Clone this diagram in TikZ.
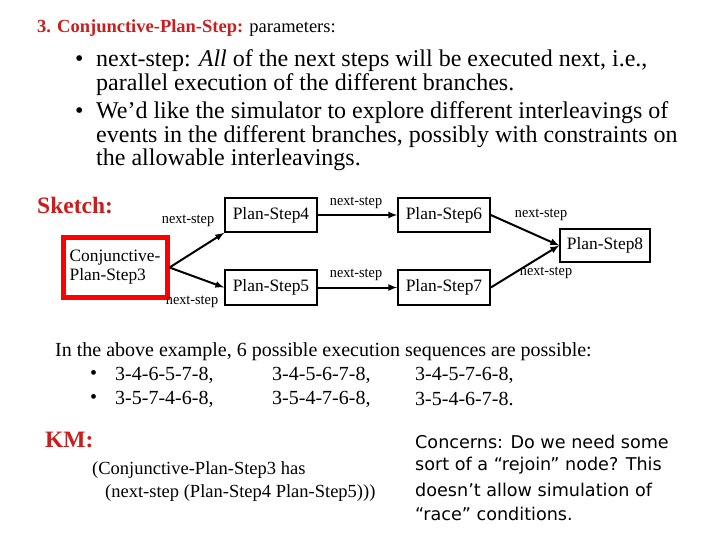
\documentclass[tikz,border=0pt]{standalone}
\usepackage{fontspec}
\setmainfont{Liberation Serif}
\newfontfamily\cfont{DejaVu Sans}
\definecolor{dred}{RGB}{200,30,30}
\begin{document}
\begin{tikzpicture}[x=1pt,y=-1pt,
  box/.style={draw,line width=1.6pt,inner sep=0pt,font=\fontsize{17.4}{19}\selectfont},
  lbl/.style={font=\fontsize{15}{16}\selectfont,inner sep=1pt,xscale=0.95},
  txt/.style={anchor=west,inner sep=0pt,font=\fontsize{24}{26}\selectfont},
  ltxt/.style={anchor=west,inner sep=0pt,font=\fontsize{20}{22}\selectfont},
  arr/.style={-latex,line width=2pt}]
\useasboundingbox (0,0) rectangle (720,540);
\node[txt,font=\fontsize{18.5}{20}\selectfont] (t0) at (37,28) {\textcolor{dred}{\textbf{3. Conjunctive-Plan-Step:}} parameters:};
\node[txt] (b1) at (75,61) {•};
\node[txt] (l1) at (96,61) {next-step: \textit{All} of the next steps will be executed next, i.e.,};
\node[txt] (l2) at (96,85) {parallel execution of the different branches.};
\node[txt] (b2) at (75,113) {•};
\node[txt] (l3) at (96,113) {We’d like the simulator to explore different interleavings of};
\node[txt] (l4) at (96,137) {events in the different branches, possibly with constraints on};
\node[txt] (l5) at (96,160) {the allowable interleavings.};
\node[txt,text=dred,font=\bfseries\fontsize{23.5}{25}\selectfont] (sk) at (37,206) {Sketch:};

\node[box,draw=red,line width=5pt,minimum width=104pt,minimum height=60pt,align=left] (c3) at (115,267.5) {Conjunctive-\\Plan-Step3};
\node[box,minimum width=92pt,minimum height=34pt] (p4) at (271,215) {Plan-Step4};
\node[box,minimum width=92pt,minimum height=34pt] (p6) at (444,215) {Plan-Step6};
\node[box,minimum width=90pt,minimum height=33pt] (p8) at (605,245.5) {Plan-Step8};
\node[box,minimum width=92pt,minimum height=35pt] (p5) at (271,287.5) {Plan-Step5};
\node[box,minimum width=92pt,minimum height=35pt] (p7) at (444,287.5) {Plan-Step7};
\draw[arr] (c3.east) -- (p4.south west);
\draw[arr] (c3.east) -- (p5.west);
\draw[arr] (p4) -- (p6);
\draw[arr] (p5) -- (p7);
\draw[arr] (p6.east) -- (p8.west);
\draw[arr] (p7.east) -- (p8.west);
\node[lbl] (n1) at (188,221) {next-step};
\node[lbl] (n2) at (192,302) {next-step};
\node[lbl] (n3) at (356,203) {next-step};
\node[lbl] (n4) at (356,275) {next-step};
\node[lbl] (n5) at (541,215) {next-step};
\node[lbl] (n6) at (546,273) {next-step};

\node[ltxt] (e0) at (55,352) {In the above example, 6 possible execution sequences are possible:};
\node[ltxt] (e1) at (90,375) {•};
\node[ltxt] (e2) at (115,375) {3-4-6-5-7-8,};
\node[ltxt] (e3) at (272,375) {3-4-5-6-7-8,};
\node[ltxt] (e4) at (415,375) {3-4-5-7-6-8,};
\node[ltxt] (e5) at (90,399) {•};
\node[ltxt] (e6) at (115,399) {3-5-7-4-6-8,};
\node[ltxt] (e7) at (272,399) {3-5-4-7-6-8,};
\node[ltxt] (e8) at (415,399) {3-5-4-6-7-8.};
\node[txt,text=dred,font=\bfseries\fontsize{23.5}{25}\selectfont] (km) at (45,440) {KM:};
\node[txt,font=\fontsize{18.5}{21}\selectfont] (k1) at (92,470) {(Conjunctive-Plan-Step3 has};
\node[txt,font=\fontsize{18.5}{21}\selectfont] (k2) at (105,493) {(next-step (Plan-Step4 Plan-Step5)))};
\node[txt,font=\cfont\fontsize{17.6}{19}\selectfont] (c1) at (415,442) {Concerns: Do we need some};
\node[txt,font=\cfont\fontsize{17.6}{19}\selectfont] (c2) at (415,466) {sort of a “rejoin” node? This};
\node[txt,font=\cfont\fontsize{17.6}{19}\selectfont] (c3t) at (415,490) {doesn’t allow simulation of};
\node[txt,font=\cfont\fontsize{17.6}{19}\selectfont] (c4) at (415,514) {“race” conditions.};
\end{tikzpicture}
\end{document}
